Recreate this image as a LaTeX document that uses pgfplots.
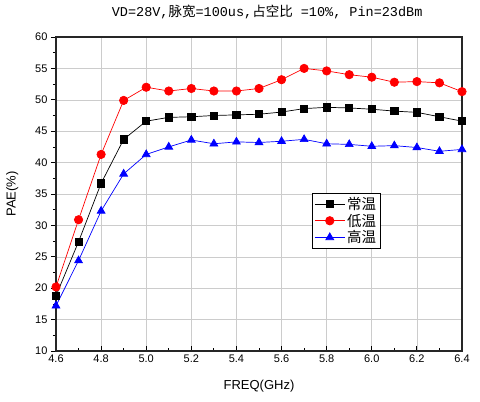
\documentclass[border=0pt]{standalone}
\usepackage{pgfplots}
\pgfplotsset{compat=1.18}
\usepackage{fontspec}
\setmainfont{Liberation Sans}
\newfontfamily\cjk{Noto Sans CJK SC}
\newfontfamily\mono{Liberation Mono}
\begin{document}
\begin{tikzpicture}[x=1pt,y=1pt]
\useasboundingbox (0,0) rectangle (480,402);
\begin{axis}[
  scale only axis, width=406pt, height=314pt,
  at={(56pt,51pt)}, anchor=south west,
  xmin=4.6, xmax=6.4, ymin=10, ymax=60,
  xtick={4.6,4.8,...,6.41}, minor xtick={4.7,4.9,...,6.31},
  ytick={10,15,...,60}, minor ytick={12.5,17.5,...,57.5},
  xticklabel style={/pgf/number format/.cd,fixed,fixed zerofill,precision=1},
  /pgf/number format/assume math mode=true,
  xtick pos=bottom, ytick pos=left,
  xtick align=inside, ytick align=outside,
  major tick length=5pt, minor tick length=3pt,
  tick style={black, line width=0.8pt},
  grid=major, grid style={gray!40, line width=0.6pt},
  axis line style={line width=1.2pt, black!85},
  tick label style={font=\fontsize{11}{12}\selectfont},
  xlabel={FREQ(GHz)}, ylabel={PAE(\%)},
  label style={font=\fontsize{13}{14}\selectfont},
  xlabel style={at={(axis description cs:0.5,-0.112)}, anchor=center},
  ylabel style={at={(axis description cs:-0.108,0.5)}, anchor=center},
  title={\mono\fontsize{13.5}{15}\selectfont VD=28V,{\cjk 脉宽}=100us,{\cjk 占空比} =10\%, Pin=23dBm},
  title style={at={(axis description cs:0.52,1.06)}, anchor=center},
  legend style={at={(0.631,0.503)}, anchor=north west, draw=black, line width=0.8pt,
    font=\cjk\fontsize{14.5}{16}\selectfont, row sep=-1pt, inner sep=1.8pt},
  legend cell align=left,
  legend image post style={line width=0.8pt},
  legend image code/.code={\draw[#1] (0pt,0pt) -- (30pt,0pt); \draw[#1,mark repeat=2,mark phase=2] plot coordinates {(0pt,0pt) (15pt,0pt) (30pt,0pt)};},
]
\addplot[black, line width=0.7pt, mark=square*, mark size=3.6pt] coordinates {
(4.6,18.8) (4.7,27.4) (4.8,36.7) (4.9,43.7) (5.0,46.6) (5.1,47.2) (5.2,47.3)
(5.3,47.5) (5.4,47.6) (5.5,47.7) (5.6,48.05) (5.7,48.6) (5.8,48.8) (5.9,48.7)
(6.0,48.5) (6.1,48.2) (6.2,48.0) (6.3,47.3) (6.4,46.6)};
\addlegendentry{常温}
\addplot[red, line width=0.7pt, mark=*, mark size=4.2pt] coordinates {
(4.6,20.2) (4.7,30.9) (4.8,41.3) (4.9,49.9) (5.0,52.0) (5.1,51.4) (5.2,51.8)
(5.3,51.4) (5.4,51.4) (5.5,51.8) (5.6,53.2) (5.7,55.0) (5.8,54.6) (5.9,54.0)
(6.0,53.6) (6.1,52.8) (6.2,52.9) (6.3,52.7) (6.4,51.3)};
\addlegendentry{低温}
\addplot[blue, line width=0.7pt, mark=triangle*, mark size=4.5pt] coordinates {
(4.6,17.2) (4.7,24.4) (4.8,32.3) (4.9,38.2) (5.0,41.3) (5.1,42.5) (5.2,43.6)
(5.3,43.0) (5.4,43.3) (5.5,43.2) (5.6,43.4) (5.7,43.7) (5.8,43.0) (5.9,42.9)
(6.0,42.6) (6.1,42.7) (6.2,42.4) (6.3,41.8) (6.4,42.1)};
\addlegendentry{高温}
\end{axis}
\end{tikzpicture}
\end{document}
